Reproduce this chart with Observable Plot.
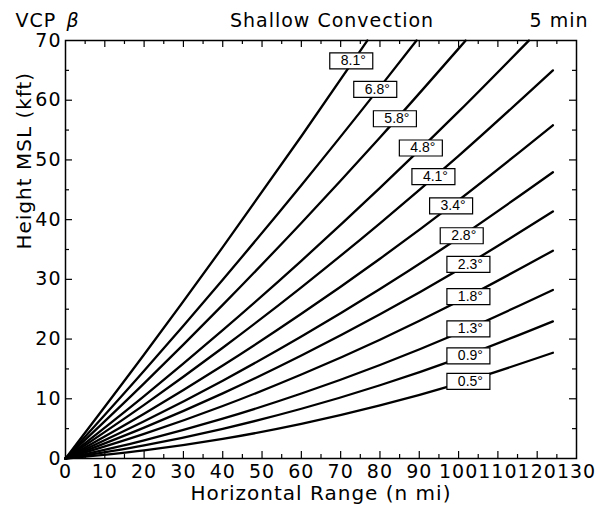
<!DOCTYPE html>
<html>
<head>
<meta charset="utf-8">
<script src="https://cdn.jsdelivr.net/npm/d3@7"></script>
<script src="https://cdn.jsdelivr.net/npm/@observablehq/plot@0.6"></script>
<style>
  html, body { margin: 0; padding: 0; background: #fff; }
</style>
</head>
<body>
<div id="chart"></div>
<script>
// ---- data ----
const rangeFull = [0, 20, 40, 60, 80, 100, 124];
const h05 = [0, 1.35, 3.28, 5.79, 8.88, 12.54, 17.71];
const h09 = [0, 2.20, 4.98, 8.33, 12.27, 16.78, 22.97];
const h13 = [0, 3.05, 6.67, 10.88, 15.66, 21.02, 28.23];
const h18 = [0, 4.11, 8.79, 14.06, 19.90, 26.33, 34.80];
const h23 = [0, 5.17, 10.91, 17.24, 24.14, 31.62, 41.37];
const h28 = [0, 6.23, 13.03, 20.42, 28.38, 36.92, 47.94];
const h34 = [0, 7.50, 15.57, 24.23, 33.46, 43.27, 55.81];
const h41 = [0, 8.98, 18.54, 28.67, 39.39, 50.68, 65.00];
const r48 = [0, 20, 40, 60, 80, 100, 117.9];
const h48 = [0, 10.46, 21.50, 33.11, 45.31, 58.08, 70];
const r58 = [0, 20, 40, 60, 80, 100, 101.8];
const h58 = [0, 12.57, 25.72, 39.45, 53.76, 68.64, 70];
const r68 = [0, 20, 40, 60, 80, 89.3];
const h68 = [0, 14.68, 29.94, 45.77, 62.19, 70];
const r81 = [0, 20, 40, 60, 76.8];
const h81 = [0, 17.41, 35.40, 53.97, 70];

const labelText = ["8.1°", "6.8°", "5.8°", "4.8°", "4.1°", "3.4°", "2.8°", "2.3°", "1.8°", "1.3°", "0.9°", "0.5°"];
const labelX = [72.7, 78.8, 83.8, 90.4, 93.6, 98.1, 100.8, 102.5, 102.5, 102.5, 102.5, 102.5];
const labelY = [66.6, 61.8, 56.9, 52.0, 47.2, 42.3, 37.3, 32.5, 27.1, 21.7, 17.2, 12.9];

const xTickLabels = [0, 10, 20, 30, 40, 50, 60, 70, 80, 90, 100, 110, 120, 130];
const yTickLabels = [0, 10, 20, 30, 40, 50, 60, 70];
const xMajor = [10, 20, 30, 40, 50, 60, 70, 80, 90, 100, 110, 120];
const xMinor = [5, 15, 25, 35, 45, 55, 65, 75, 85, 95, 105, 115, 125];
const yMajor = [10, 20, 30, 40, 50, 60];
const yMinor = [5, 15, 25, 35, 45, 55, 65];

// ---- build table ----
const series = [
  ["0.5°", rangeFull, h05], ["0.9°", rangeFull, h09], ["1.3°", rangeFull, h13],
  ["1.8°", rangeFull, h18], ["2.3°", rangeFull, h23], ["2.8°", rangeFull, h28],
  ["3.4°", rangeFull, h34], ["4.1°", rangeFull, h41], ["4.8°", r48, h48],
  ["5.8°", r58, h58], ["6.8°", r68, h68], ["8.1°", r81, h81]
];
const rows = series.flatMap(([a, r, h]) => r.map((v, i) => ({angle: a, range: v, height: h[i]})));
const labels = labelText.map((t, i) => ({text: t, x: labelX[i], y: labelY[i]}));

const W = 600, H = 506, mT = 40, mR = 24, mB = 48, mL = 65;
const fW = W - mL - mR, fH = H - mT - mB;
const boxSymbol = {draw(ctx) { ctx.rect(-21.5, -8, 43, 16); }};
const font = "DejaVu Sans";

const svg = Plot.plot({
  width: W, height: H,
  marginTop: mT, marginRight: mR, marginBottom: mB, marginLeft: mL,
  style: {background: "white", color: "black", fontFamily: font, letterSpacing: "1px"},
  x: {domain: [0, 130]},
  y: {domain: [0, 70]},
  marks: [
    Plot.line(rows, {x: "range", y: "height", z: "angle", curve: "monotone-x", stroke: "black", strokeWidth: 2.3}),
    Plot.dot(labels, {x: "x", y: "y", symbol: boxSymbol, fill: "white", stroke: "black", strokeWidth: 1.2}),
    Plot.text(labels, {x: "x", y: "y", text: "text", dx: 2, fontSize: 14, fontFamily: "Liberation Sans", fill: "black"}),
    Plot.tickX(xMajor, {x: d => d, insetTop: fH - 7, stroke: "black", strokeWidth: 1.2}),
    Plot.tickX(xMinor, {x: d => d, insetTop: fH - 4, stroke: "black", strokeWidth: 1.2}),
    Plot.tickX(xMajor, {x: d => d, insetBottom: fH - 7, stroke: "black", strokeWidth: 1.2}),
    Plot.tickX(xMinor, {x: d => d, insetBottom: fH - 4, stroke: "black", strokeWidth: 1.2}),
    Plot.tickY(yMajor, {y: d => d, insetRight: fW - 7, stroke: "black", strokeWidth: 1.2}),
    Plot.tickY(yMinor, {y: d => d, insetRight: fW - 4, stroke: "black", strokeWidth: 1.2}),
    Plot.tickY(yMajor, {y: d => d, insetLeft: fW - 7, stroke: "black", strokeWidth: 1.2}),
    Plot.tickY(yMinor, {y: d => d, insetLeft: fW - 4, stroke: "black", strokeWidth: 1.2}),
    Plot.axisX({ticks: xTickLabels, tickSize: 0, tickPadding: 6, fontSize: 19, label: null}),
    Plot.axisY({ticks: yTickLabels, tickSize: 0, tickPadding: 4, fontSize: 19, label: null}),
    Plot.frame({stroke: "black", strokeWidth: 1.5}),
    Plot.text(["Horizontal Range (n mi)"], {frameAnchor: "bottom", lineAnchor: "middle", dy: 35, fontSize: 20, fill: "black"}),
    Plot.text(["Height MSL (kft)"], {frameAnchor: "left", lineAnchor: "middle", dx: -41, rotate: -90, fontSize: 20, fill: "black"}),
    Plot.text(["VCP"], {frameAnchor: "top-left", lineAnchor: "middle", dx: -50, dy: -20, textAnchor: "start", fontSize: 19, fill: "black"}),
    Plot.text(["β"], {frameAnchor: "top-left", lineAnchor: "middle", dx: 1, dy: -20, textAnchor: "start", fontSize: 19, fontStyle: "italic", fill: "black"}),
    Plot.text(["Shallow Convection"], {frameAnchor: "top", lineAnchor: "middle", dx: 11, dy: -20, fontSize: 19, fill: "black"}),
    Plot.text(["5 min"], {frameAnchor: "top-right", lineAnchor: "middle", dx: 12, dy: -20, textAnchor: "end", fontSize: 19, fill: "black"})
  ]
});
d3.select(svg).selectAll('g[font-family="Liberation Sans"]').attr("letter-spacing", "0px");
document.getElementById("chart").appendChild(svg);
</script>
</body>
</html>
